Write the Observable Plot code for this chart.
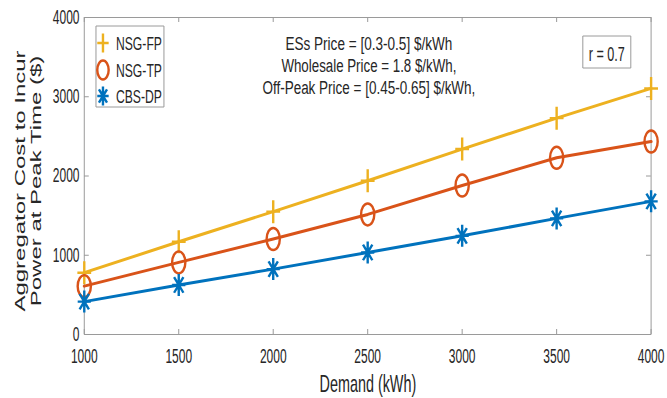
<!DOCTYPE html>
<html><head><meta charset="utf-8">
<script src="https://cdn.jsdelivr.net/npm/d3@7"></script>
<script src="https://cdn.jsdelivr.net/npm/@observablehq/plot@0.6"></script>
<style>
body{margin:0;background:#fff;}
#wrap{position:relative;width:667px;height:398px;overflow:hidden;}
#wrap svg *{vector-effect:non-scaling-stroke;}
</style></head><body><div id="wrap"></div>
<script>
// ---- data ----
const demand = [1000, 1500, 2000, 2500, 3000, 3500, 4000];
const nsgFP  = [780, 1170, 1550, 1940, 2340, 2730, 3105];
const nsgTP  = [610, 910, 1205, 1515, 1880, 2230, 2435];
const cbsDP  = [415, 625, 825, 1035, 1245, 1465, 1680];
const seriesNames  = ["NSG-FP", "NSG-TP", "CBS-DP"];
const seriesColors = ["#EDB120", "#D95319", "#0072BD"];
const xTicks = [1000, 1500, 2000, 2500, 3000, 3500, 4000];
const yTicks = [0, 1000, 2000, 3000, 4000];
const xLabel = "Demand (kWh)";
const yLabelLines = ["Aggregator Cost to Incur", "Power at Peak Time ($)"];
const noteLines = ["ESs Price = [0.3-0.5] $/kWh", "Wholesale Price = 1.8 $/kWh,", "Off-Peak Price = [0.45-0.65] $/kWh,"];
const rLabel = "r = 0.7";

// ---- layout ----
const S = 0.6;              // horizontal squeeze of the original figure
const W0 = Math.round(667 / S), H = 398;
const mL = 140, mR = 27, mT = 17, mB = 64;
const plotW = W0 - mL - mR, plotH = H - mT - mB;
const axisGray = "#9a9a9a", textCol = "#262626";
const FONT = "'Liberation Sans', Arial, Helvetica, sans-serif";

const values = [nsgFP, nsgTP, cbsDP];
const rows = seriesNames.flatMap((s, k) => demand.map((d, i) => ({demand: d, cost: values[k][i], series: s})));

// custom marker symbols (MATLAB style)
const symPlus = {draw(c, size){ const r = Math.sqrt(size/Math.PI); c.moveTo(-r,0); c.lineTo(r,0); c.moveTo(0,-r); c.lineTo(0,r); }};
const symCircle = {draw(c, size){ const r = Math.sqrt(size/Math.PI); c.moveTo(r,0); c.arc(0,0,r,0,2*Math.PI); }};
const symStar = {draw(c, size){ const r = Math.sqrt(size/Math.PI), q = r*Math.SQRT1_2;
  c.moveTo(-r,0); c.lineTo(r,0); c.moveTo(0,-r); c.lineTo(0,r);
  c.moveTo(-q,-q); c.lineTo(q,q); c.moveTo(-q,q); c.lineTo(q,-q); }};
const symbols = [symPlus, symCircle, symStar];
const symR = [11.5, 11, 11];

const chart = Plot.plot({
  width: W0, height: H,
  marginLeft: mL, marginRight: mR, marginTop: mT, marginBottom: mB,
  style: {fontFamily: FONT, fontSize: "20px", color: textCol, background: "#fff"},
  x: {domain: [1000, 4000]},
  y: {domain: [0, 4000]},
  color: {domain: seriesNames, range: seriesColors},
  marks: [
    Plot.frame({stroke: axisGray}),
    Plot.tickX(xTicks, {x: d => d, insetTop: plotH - 5, stroke: axisGray}),
    Plot.tickX(xTicks, {x: d => d, insetBottom: plotH - 5, stroke: axisGray}),
    Plot.tickY(yTicks, {y: d => d, insetRight: plotW - 8, stroke: axisGray}),
    Plot.tickY(yTicks, {y: d => d, insetLeft: plotW - 8, stroke: axisGray}),
    Plot.axisX({ticks: xTicks, tickSize: 0, tickPadding: 14, tickFormat: d3.format("d"), label: null, fontSize: 20, fill: textCol}),
    Plot.axisY({ticks: yTicks, tickSize: 0, tickPadding: 8, tickFormat: d3.format("d"), label: null, fontSize: 20, fill: textCol}),
    Plot.line(rows, {x: "demand", y: "cost", stroke: "series", z: "series", strokeWidth: 3}),
    ...seriesNames.map((s, k) => Plot.dot(rows.filter(r => r.series === s),
      {x: "demand", y: "cost", symbol: symbols[k], r: symR[k], fill: "none", stroke: seriesColors[k], strokeWidth: 2.4}))
  ]
});

const svg = chart;
svg.setAttribute("viewBox", `0 0 ${W0} ${H}`);
svg.setAttribute("width", 667);
svg.setAttribute("height", H);
svg.setAttribute("preserveAspectRatio", "none");
svg.style.width = "667px"; svg.style.height = H + "px"; svg.style.maxWidth = "none";

const g = d3.select(svg).append("g").attr("font-family", FONT).attr("fill", textCol).attr("text-anchor", "start");
const X = px => px / S; // convert picture x to unsqueezed coordinates

// y label
g.selectAll("text.yl").data(yLabelLines).join("text").attr("class", "yl")
  .attr("transform", (d, i) => `translate(${X(i ? 41 : 25)},181) rotate(-90)`)
  .attr("text-anchor", "middle").attr("font-size", 24)
  .text(d => d);

// x label
g.append("text").attr("x", X(368)).attr("y", 392).attr("text-anchor", "middle")
  .attr("font-size", 24).text(xLabel);

// annotation
const noteW = [167, 175, 213];
g.selectAll("text.note").data(noteLines).join("text").attr("class", "note")
  .attr("x", X(369)).attr("y", (d, i) => [50, 72, 94][i]).attr("text-anchor", "middle")
  .attr("font-size", 19).attr("textLength", (d, i) => X(noteW[i])).attr("lengthAdjust", "spacingAndGlyphs")
  .text(d => d);

// r box
g.append("rect").attr("x", X(583)).attr("y", 36).attr("width", X(48)).attr("height", 32)
  .attr("fill", "#fff").attr("stroke", axisGray);
g.append("text").attr("x", X(607)).attr("y", 61).attr("text-anchor", "middle").attr("font-size", 21).text(rLabel);

// legend
g.append("rect").attr("x", X(96)).attr("y", 26).attr("width", X(68)).attr("height", 81)
  .attr("fill", "#fff").attr("stroke", axisGray);
const legY = [43, 70, 96];
seriesNames.forEach((s, k) => {
  g.append("path").attr("transform", `translate(${X(103)},${legY[k]})`)
    .attr("d", d3.symbol(symbols[k], Math.PI * 9.5 * 9.5)())
    .attr("fill", "none").attr("stroke", seriesColors[k]).attr("stroke-width", 2.4);
  g.append("text").attr("x", X(116)).attr("y", legY[k] + 7).attr("text-anchor", "start")
    .attr("font-size", 19).attr("textLength", X(46)).attr("lengthAdjust", "spacingAndGlyphs").text(s);
});

document.getElementById("wrap").appendChild(svg);
</script></body></html>
